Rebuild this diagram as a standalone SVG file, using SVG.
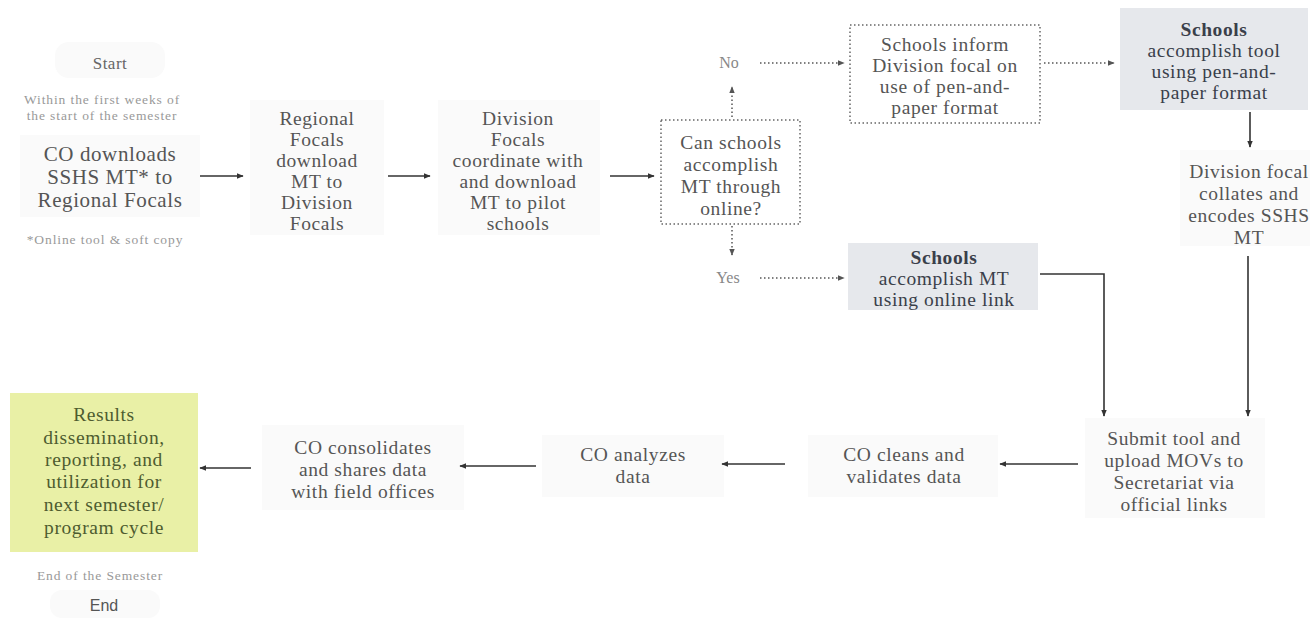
<svg xmlns="http://www.w3.org/2000/svg" width="1311" height="620" viewBox="0 0 1311 620">
<defs>
<marker id="ah" viewBox="0 0 10 10" refX="9" refY="5" markerWidth="7" markerHeight="7" orient="auto" markerUnits="userSpaceOnUse">
<path d="M0,1 L10,5 L0,9 z" fill="#333"/>
</marker>
<marker id="ahd" viewBox="0 0 10 10" refX="9" refY="5" markerWidth="7" markerHeight="7" orient="auto" markerUnits="userSpaceOnUse">
<path d="M0,1 L10,5 L0,9 z" fill="#555"/>
</marker>
</defs>
<style>
.t{font-family:"Liberation Serif",serif;font-size:19.5px;letter-spacing:0.6px;fill:#555;text-anchor:middle}
.d{font-weight:bold;fill:#3a3f4a}
.s{font-family:"Liberation Serif",serif;font-size:13.5px;letter-spacing:0.9px;fill:#999;text-anchor:middle}
.l{font-family:"Liberation Serif",serif;font-size:17px;letter-spacing:0.5px;fill:#666;text-anchor:middle}
.g{font-family:"Liberation Serif",serif;font-size:16px;fill:#888;text-anchor:middle}
.bg{fill:#fafafa}
.gray{fill:#e6e8ec}
.dot{fill:none;stroke:#666;stroke-width:1.5;stroke-dasharray:1.5 2.5}
.c{fill:none;stroke:#333;stroke-width:1.6;marker-end:url(#ah)}
.cd{fill:none;stroke:#555;stroke-width:1.5;stroke-dasharray:1.5 2.5;marker-end:url(#ahd)}
</style>
<rect width="1311" height="620" fill="#ffffff"/>

<g id="start">
<rect class="bg" x="55" y="42" width="110" height="36" rx="14"/>
<text class="l" x="110" y="69">Start</text>
<text class="s" x="102" y="104">Within the first weeks of</text>
<text class="s" x="102" y="120">the start of the semester</text>
</g>

<g id="co-downloads">
<rect class="bg" x="20" y="135" width="180" height="82"/>
<text class="t" x="110" y="161" style="font-size:21px">CO downloads</text>
<text class="t" x="110" y="184" style="font-size:21px">SSHS MT* to</text>
<text class="t" x="110" y="207" style="font-size:21px">Regional Focals</text>
<text class="s" x="105" y="244">*Online tool &amp; soft copy</text>
</g>

<g id="regional-focals">
<rect class="bg" x="250" y="100" width="134" height="135"/>
<text class="t" x="317" y="125">Regional</text>
<text class="t" x="317" y="146">Focals</text>
<text class="t" x="317" y="167">download</text>
<text class="t" x="317" y="188">MT to</text>
<text class="t" x="317" y="209">Division</text>
<text class="t" x="317" y="230">Focals</text>
</g>

<g id="division-focals">
<rect class="bg" x="438" y="100" width="162" height="135"/>
<text class="t" x="518" y="125">Division</text>
<text class="t" x="518" y="146">Focals</text>
<text class="t" x="518" y="167">coordinate with</text>
<text class="t" x="518" y="188">and download</text>
<text class="t" x="518" y="209">MT to pilot</text>
<text class="t" x="518" y="230">schools</text>
</g>

<g id="decision">
<rect class="dot" x="661" y="120" width="139" height="104"/>
<text class="t" x="731" y="149">Can schools</text>
<text class="t" x="731" y="171">accomplish</text>
<text class="t" x="731" y="193">MT through</text>
<text class="t" x="731" y="215">online?</text>
</g>

<g id="no-label"><text class="g" x="729" y="68">No</text></g>
<g id="yes-label"><text class="g" x="728" y="283">Yes</text></g>

<g id="schools-inform">
<rect class="dot" x="850" y="25" width="190" height="98"/>
<text class="t" x="945" y="51">Schools inform</text>
<text class="t" x="945" y="72">Division focal on</text>
<text class="t" x="945" y="93">use of pen-and-</text>
<text class="t" x="945" y="114">paper format</text>
</g>

<g id="pen-paper">
<rect class="gray" x="1120" y="8" width="188" height="102"/>
<text class="t d" x="1214" y="36">Schools</text>
<text class="t" x="1214" y="57" style="fill:#3a3f4a">accomplish tool</text>
<text class="t" x="1214" y="78" style="fill:#3a3f4a">using pen-and-</text>
<text class="t" x="1214" y="99" style="fill:#3a3f4a">paper format</text>
</g>

<g id="division-collates">
<rect class="bg" x="1180" y="150" width="130" height="96"/>
<text class="t" x="1249" y="178">Division focal</text>
<text class="t" x="1249" y="200">collates and</text>
<text class="t" x="1249" y="222">encodes SSHS</text>
<text class="t" x="1249" y="244">MT</text>
</g>

<g id="online-link">
<rect class="gray" x="848" y="243" width="190" height="67"/>
<text class="t d" x="944" y="264">Schools</text>
<text class="t" x="944" y="285" style="fill:#3a3f4a">accomplish MT</text>
<text class="t" x="944" y="306" style="fill:#3a3f4a">using online link</text>
</g>

<g id="submit">
<rect class="bg" x="1085" y="418" width="180" height="100"/>
<text class="t" x="1174" y="445">Submit tool and</text>
<text class="t" x="1174" y="467">upload MOVs to</text>
<text class="t" x="1174" y="489">Secretariat via</text>
<text class="t" x="1174" y="511">official links</text>
</g>

<g id="cleans">
<rect class="bg" x="808" y="435" width="190" height="62"/>
<text class="t" x="904" y="461">CO cleans and</text>
<text class="t" x="904" y="483">validates data</text>
</g>

<g id="analyzes">
<rect class="bg" x="542" y="435" width="182" height="62"/>
<text class="t" x="633" y="461">CO analyzes</text>
<text class="t" x="633" y="483">data</text>
</g>

<g id="consolidates">
<rect class="bg" x="262" y="425" width="202" height="85"/>
<text class="t" x="363" y="454">CO consolidates</text>
<text class="t" x="363" y="476">and shares data</text>
<text class="t" x="363" y="498">with field offices</text>
</g>

<g id="results">
<rect x="10" y="393" width="188" height="159" fill="#e9f0a6"/>
<text class="t" x="104" y="421" style="fill:#4e5c30">Results</text>
<text class="t" x="104" y="444" style="fill:#4e5c30">dissemination,</text>
<text class="t" x="104" y="466" style="fill:#4e5c30">reporting, and</text>
<text class="t" x="104" y="488" style="fill:#4e5c30">utilization for</text>
<text class="t" x="104" y="511" style="fill:#4e5c30">next semester/</text>
<text class="t" x="104" y="534" style="fill:#4e5c30">program cycle</text>
<text class="s" x="100" y="580">End of the Semester</text>
</g>

<g id="end">
<rect class="bg" x="50" y="590" width="110" height="28" rx="12"/>
<text x="104" y="611" style="font-family:'Liberation Sans',sans-serif;font-size:16px;fill:#555;text-anchor:middle">End</text>
</g>

<g id="connectors">
<path class="c" d="M200,176 H243"/>
<path class="c" d="M388,176 H430"/>
<path class="c" d="M610,176 H654"/>
<path class="cd" d="M732,117 V87"/>
<path class="cd" d="M732,226 V255"/>
<path class="cd" d="M760,63 H844"/>
<path class="cd" d="M760,278 H844"/>
<path class="cd" d="M1044,63 H1114"/>
<path class="c" d="M1250,112 V147"/>
<path class="c" d="M1248,256 V416"/>
<path class="c" d="M1040,274 H1104 V416"/>
<path class="c" d="M1078,464 H1000"/>
<path class="c" d="M785,464 H722"/>
<path class="c" d="M536,466 H460"/>
<path class="c" d="M251,468 H200"/>
</g>
</svg>
